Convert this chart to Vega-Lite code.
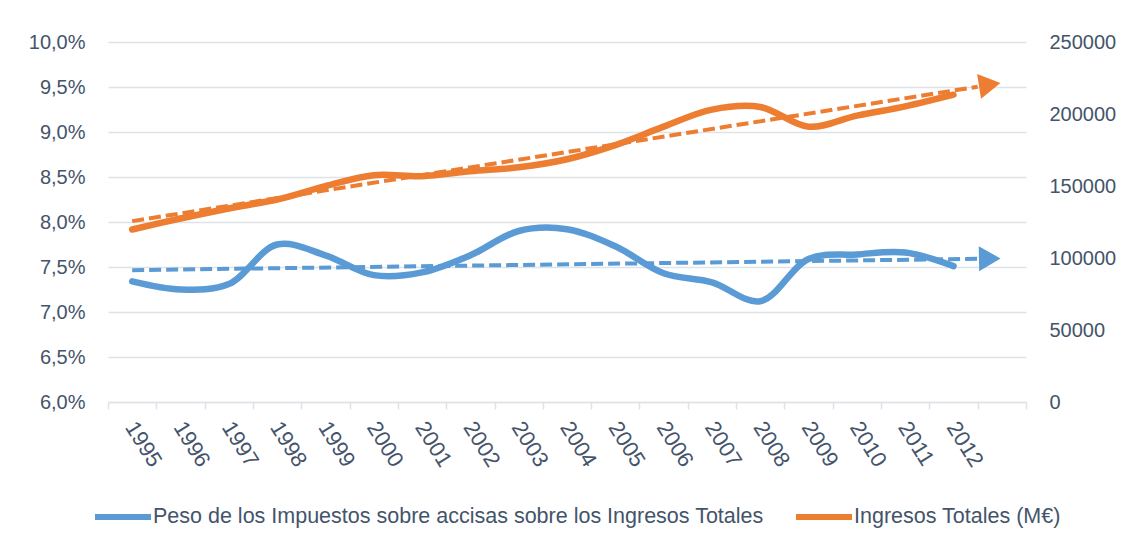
{
  "$schema": "https://vega.github.io/schema/vega-lite/v6.json",
  "autosize": {"type": "none"},
  "width": 918,
  "height": 360,
  "padding": {"left": 108, "top": 42, "right": 103, "bottom": 143},
  "background": "white",
  "config": {
    "font": "Liberation Sans",
    "view": {"stroke": null},
    "axis": {
      "labelFont": "Liberation Sans",
      "labelFontSize": 20,
      "labelColor": "#44546a",
      "gridColor": "#dfe3e8",
      "gridWidth": 1.5,
      "domain": false,
      "ticks": false,
      "title": null
    },
    "legend": {
      "orient": "none",
      "legendX": -16,
      "legendY": 444,
      "direction": "horizontal",
      "symbolType": "stroke",
      "symbolSize": 3136,
      "symbolStrokeWidth": 6,
      "labelFont": "Liberation Sans",
      "labelFontSize": 21.5,
      "labelColor": "#44546a",
      "labelOffset": -1,
      "columnPadding": 20,
      "labelLimit": 800
    }
  },
  "datasets": {
    "blue": [
      {"year": 1995, "serie": "Peso de los Impuestos sobre accisas sobre los Ingresos Totales", "valor": 7.34},
      {"year": 1996, "serie": "Peso de los Impuestos sobre accisas sobre los Ingresos Totales", "valor": 7.25},
      {"year": 1997, "serie": "Peso de los Impuestos sobre accisas sobre los Ingresos Totales", "valor": 7.31},
      {"year": 1998, "serie": "Peso de los Impuestos sobre accisas sobre los Ingresos Totales", "valor": 7.75},
      {"year": 1999, "serie": "Peso de los Impuestos sobre accisas sobre los Ingresos Totales", "valor": 7.63},
      {"year": 2000, "serie": "Peso de los Impuestos sobre accisas sobre los Ingresos Totales", "valor": 7.41},
      {"year": 2001, "serie": "Peso de los Impuestos sobre accisas sobre los Ingresos Totales", "valor": 7.44},
      {"year": 2002, "serie": "Peso de los Impuestos sobre accisas sobre los Ingresos Totales", "valor": 7.63},
      {"year": 2003, "serie": "Peso de los Impuestos sobre accisas sobre los Ingresos Totales", "valor": 7.90},
      {"year": 2004, "serie": "Peso de los Impuestos sobre accisas sobre los Ingresos Totales", "valor": 7.92},
      {"year": 2005, "serie": "Peso de los Impuestos sobre accisas sobre los Ingresos Totales", "valor": 7.73},
      {"year": 2006, "serie": "Peso de los Impuestos sobre accisas sobre los Ingresos Totales", "valor": 7.43},
      {"year": 2007, "serie": "Peso de los Impuestos sobre accisas sobre los Ingresos Totales", "valor": 7.33},
      {"year": 2008, "serie": "Peso de los Impuestos sobre accisas sobre los Ingresos Totales", "valor": 7.12},
      {"year": 2009, "serie": "Peso de los Impuestos sobre accisas sobre los Ingresos Totales", "valor": 7.59},
      {"year": 2010, "serie": "Peso de los Impuestos sobre accisas sobre los Ingresos Totales", "valor": 7.64},
      {"year": 2011, "serie": "Peso de los Impuestos sobre accisas sobre los Ingresos Totales", "valor": 7.66},
      {"year": 2012, "serie": "Peso de los Impuestos sobre accisas sobre los Ingresos Totales", "valor": 7.51}
    ],
    "blueTrend": [
      {"year": 1995, "valor": 7.465},
      {"year": 2012.5, "valor": 7.591}
    ],
    "blueArrow": [
      {"year": 2012.75, "valor": 7.593}
    ],
    "orange": [
      {"year": 1995, "serie": "Ingresos Totales (M€)", "valor": 119800},
      {"year": 1996, "serie": "Ingresos Totales (M€)", "valor": 127400},
      {"year": 1997, "serie": "Ingresos Totales (M€)", "valor": 134400},
      {"year": 1998, "serie": "Ingresos Totales (M€)", "valor": 140600},
      {"year": 1999, "serie": "Ingresos Totales (M€)", "valor": 149900},
      {"year": 2000, "serie": "Ingresos Totales (M€)", "valor": 157500},
      {"year": 2001, "serie": "Ingresos Totales (M€)", "valor": 156800},
      {"year": 2002, "serie": "Ingresos Totales (M€)", "valor": 160200},
      {"year": 2003, "serie": "Ingresos Totales (M€)", "valor": 163000},
      {"year": 2004, "serie": "Ingresos Totales (M€)", "valor": 168600},
      {"year": 2005, "serie": "Ingresos Totales (M€)", "valor": 178400},
      {"year": 2006, "serie": "Ingresos Totales (M€)", "valor": 191200},
      {"year": 2007, "serie": "Ingresos Totales (M€)", "valor": 203000},
      {"year": 2008, "serie": "Ingresos Totales (M€)", "valor": 204900},
      {"year": 2009, "serie": "Ingresos Totales (M€)", "valor": 191200},
      {"year": 2010, "serie": "Ingresos Totales (M€)", "valor": 198900},
      {"year": 2011, "serie": "Ingresos Totales (M€)", "valor": 205300},
      {"year": 2012, "serie": "Ingresos Totales (M€)", "valor": 213400}
    ],
    "orangeTrend": [
      {"year": 1995, "valor": 125600},
      {"year": 2012.5, "valor": 218950}
    ],
    "orangeArrow": [
      {"year": 2012.75, "valor": 220300}
    ]
  },
  "encoding": {
    "x": {
      "field": "year",
      "type": "quantitative",
      "scale": {"domain": [1994.5, 2013.5], "nice": false, "zero": false},
      "axis": {
        "values": [1994.5, 1995.5, 1996.5, 1997.5, 1998.5, 1999.5, 2000.5, 2001.5, 2002.5, 2003.5, 2004.5, 2005.5, 2006.5, 2007.5, 2008.5, 2009.5, 2010.5, 2011.5, 2012.5, 2013.5],
        "grid": false,
        "domain": true,
        "domainColor": "#dfe3e8",
        "domainWidth": 1.5,
        "ticks": true,
        "tickColor": "#dfe3e8",
        "tickSize": 7,
        "tickWidth": 1.5,
        "labelFontSize": 22,
        "labelAngle": 58,
        "labelAlign": "left",
        "labelBaseline": "middle",
        "labelOffset": 22,
        "labelPadding": 14,
        "labelFlush": false,
        "labelOverlap": false,
        "labelBound": false,
        "labelExpr": "datum.value < 2012 ? '' + (datum.value + 0.5) : ''"
      }
    }
  },
  "layer": [
    {
      "encoding": {
        "y": {
          "field": "valor",
          "type": "quantitative",
          "scale": {"domain": [6, 10], "nice": false, "zero": false},
          "axis": {
            "orient": "left",
            "values": [6, 6.5, 7, 7.5, 8, 8.5, 9, 9.5, 10],
            "grid": true,
            "labelPadding": 23,
            "labelExpr": "replace(format(datum.value, '.1f'), '.', ',') + '%'"
          }
        }
      },
      "layer": [
        {
          "data": {"name": "blue"},
          "mark": {"type": "line", "interpolate": "catmull-rom", "strokeWidth": 6.5, "strokeCap": "round"},
          "encoding": {
            "color": {
              "field": "serie",
              "type": "nominal",
              "scale": {
                "domain": ["Peso de los Impuestos sobre accisas sobre los Ingresos Totales", "Ingresos Totales (M€)"],
                "range": ["#5b9bd5", "#ed7d31"]
              },
              "legend": {"title": null}
            }
          }
        },
        {
          "data": {"name": "blueTrend"},
          "mark": {"type": "line", "color": "#5b9bd5", "strokeWidth": 4, "strokeDash": [12, 5]},
          "encoding": {}
        },
        {
          "data": {"name": "blueArrow"},
          "mark": {"type": "point", "shape": "triangle-right", "filled": true, "size": 625, "opacity": 1, "color": "#5b9bd5", "angle": -1},
          "encoding": {}
        }
      ]
    },
    {
      "encoding": {
        "y": {
          "field": "valor",
          "type": "quantitative",
          "scale": {"domain": [0, 250000], "nice": false, "zero": true},
          "axis": {
            "orient": "right",
            "values": [0, 50000, 100000, 150000, 200000, 250000],
            "grid": false,
            "labelPadding": 23,
            "format": "d"
          }
        }
      },
      "layer": [
        {
          "data": {"name": "orange"},
          "mark": {"type": "line", "interpolate": "catmull-rom", "strokeWidth": 6.5, "strokeCap": "round"},
          "encoding": {
            "color": {"field": "serie", "type": "nominal"}
          }
        },
        {
          "data": {"name": "orangeTrend"},
          "mark": {"type": "line", "color": "#ed7d31", "strokeWidth": 4, "strokeDash": [12, 5]},
          "encoding": {}
        },
        {
          "data": {"name": "orangeArrow"},
          "mark": {"type": "point", "shape": "triangle-right", "filled": true, "size": 625, "opacity": 1, "color": "#ed7d31", "angle": -9},
          "encoding": {}
        }
      ]
    }
  ],
  "resolve": {"scale": {"y": "independent"}}
}
